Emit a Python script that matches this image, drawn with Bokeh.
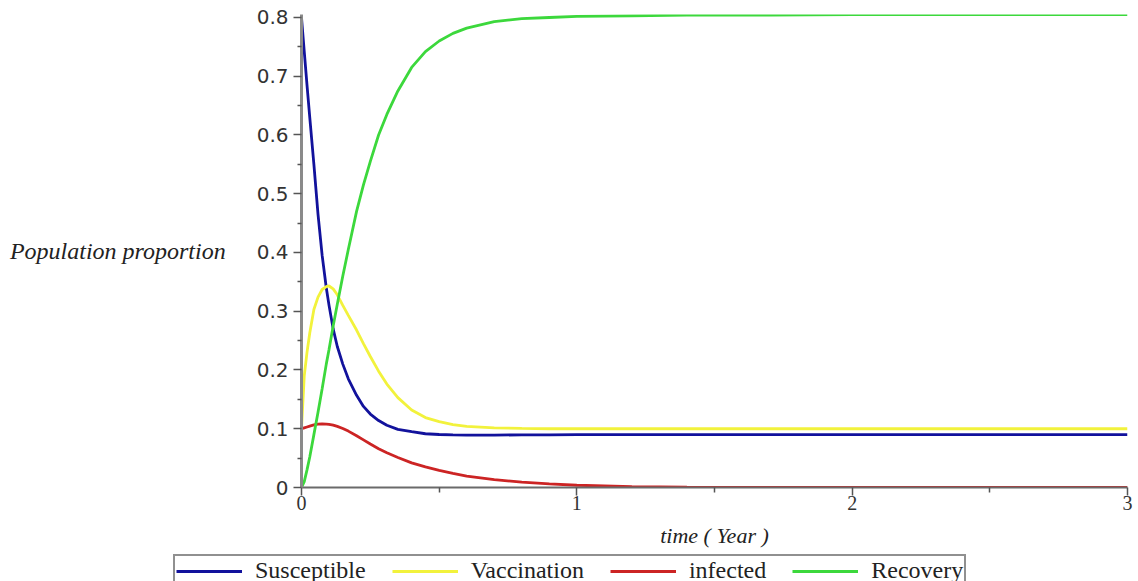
from bokeh.plotting import figure
from bokeh.layouts import column
from bokeh.models import (FixedTicker, Range1d, Legend, LegendItem)
from bokeh.embed import file_html
from bokeh.resources import INLINE

# ---- data ----
t = [0, 0.01, 0.02, 0.03, 0.045, 0.06, 0.075, 0.09, 0.1, 0.115, 0.13, 0.15,
     0.17, 0.2, 0.225, 0.25, 0.28, 0.31, 0.35, 0.4, 0.45, 0.5, 0.55, 0.6,
     0.7, 0.8, 0.9, 1.0, 1.2, 1.4, 1.7, 2.0, 2.5, 3.0]

susceptible = [0.8, 0.742, 0.685, 0.63, 0.55, 0.465, 0.395, 0.34, 0.31, 0.27,
               0.24, 0.21, 0.185, 0.157, 0.138, 0.125, 0.114, 0.106, 0.099,
               0.095, 0.0915, 0.0902, 0.0895, 0.0892, 0.0893, 0.0895, 0.0897,
               0.09, 0.09, 0.09, 0.09, 0.09, 0.09, 0.09]

vaccination = [0.1, 0.19, 0.23, 0.263, 0.303, 0.324, 0.337, 0.342, 0.343, 0.338,
               0.328, 0.31, 0.293, 0.268, 0.245, 0.223, 0.198, 0.176, 0.153,
               0.132, 0.119, 0.112, 0.107, 0.104, 0.1015, 0.1005, 0.1, 0.1,
               0.1, 0.1, 0.1, 0.1, 0.1, 0.1]

infected = [0.1, 0.1015, 0.103, 0.1045, 0.1065, 0.1078, 0.1082, 0.108, 0.1075,
            0.1062, 0.104, 0.1005, 0.096, 0.088, 0.081, 0.074, 0.066, 0.059,
            0.051, 0.042, 0.035, 0.029, 0.024, 0.0195, 0.0135, 0.009, 0.006,
            0.0038, 0.0015, 0.0006, 0.0002, 0.0, 0.0, 0.0]

recovery = [0.0, 0.01, 0.03, 0.052, 0.09, 0.128, 0.168, 0.21, 0.235, 0.275,
            0.312, 0.36, 0.405, 0.47, 0.515, 0.555, 0.6, 0.635, 0.675, 0.715,
            0.742, 0.76, 0.773, 0.782, 0.793, 0.798, 0.8, 0.802, 0.803, 0.804,
            0.804, 0.805, 0.805, 0.805]

series_names = ["Susceptible", "Vaccination", "infected", "Recovery"]
series_colors = ["#12129c", "#f2f23c", "#cc2424", "#3cd83c"]

x_ticks = [0, 1, 2, 3]
x_minor = [0.5, 1.5, 2.5]
y_ticks = [0, 0.1, 0.2, 0.3, 0.4, 0.5, 0.6, 0.7, 0.8]
y_tick_labels = ["0", "0.1", "0.2", "0.3", "0.4", "0.5", "0.6", "0.7", "0.8"]
y_minor = [0.05, 0.15, 0.25, 0.35, 0.45, 0.55, 0.65, 0.75]

x_title = "time ( Year )"
y_title = "Population proportion"

# ---- main figure ----
p = figure(width=1138, height=553, output_backend="svg", toolbar_location=None,
           x_range=Range1d(0, 3), y_range=Range1d(0, 0.8051),
           min_border_left=301, min_border_right=11, min_border_top=14,
           min_border_bottom=66)
p.frame_align = False
p.outline_line_color = None
p.grid.visible = False
p.background_fill_color = "white"
p.border_fill_color = "white"

for vals, col in zip([susceptible, vaccination, infected, recovery], series_colors):
    p.line(t, vals, line_color=col, line_width=2.8)

# x axis
xa = p.xaxis[0]
xa.ticker = FixedTicker(ticks=x_ticks, minor_ticks=x_minor)
xa.axis_line_color = "#6a6a6a"
xa.axis_line_width = 2
xa.major_tick_line_color = "#555555"
xa.minor_tick_line_color = "#555555"
xa.major_tick_line_width = 1.5
xa.minor_tick_line_width = 1.5
xa.major_tick_in = 0
xa.major_tick_out = 8
xa.minor_tick_in = 0
xa.minor_tick_out = 5
xa.major_label_text_font = "Liberation Serif"
xa.major_label_text_font_size = "20px"
xa.major_label_text_color = "#333333"
xa.major_label_standoff = 0
xa.axis_label = x_title
xa.axis_label_text_font = "Liberation Serif"
xa.axis_label_text_font_style = "italic"
xa.axis_label_text_font_size = "22px"
xa.axis_label_text_color = "#222222"
xa.axis_label_standoff = 10

# y axis
ya = p.yaxis[0]
ya.ticker = FixedTicker(ticks=y_ticks, minor_ticks=y_minor)
ya.major_label_overrides = {v: s for v, s in zip(y_ticks, y_tick_labels)}
ya.axis_line_color = "#8a8a8a"
ya.axis_line_width = 3
ya.major_tick_line_color = "#555555"
ya.minor_tick_line_color = "#555555"
ya.major_tick_line_width = 1.5
ya.minor_tick_line_width = 1.5
ya.major_tick_in = 0
ya.major_tick_out = 8
ya.minor_tick_in = 0
ya.minor_tick_out = 4
ya.major_label_text_font = "DejaVu Sans"
ya.major_label_text_font_size = "20px"
ya.major_label_text_color = "#333333"
ya.major_label_standoff = 5
ya.axis_label = y_title
ya.axis_label_orientation = "horizontal"
ya.axis_label_text_font = "Liberation Serif"
ya.axis_label_text_font_style = "italic"
ya.axis_label_text_font_size = "24px"
ya.axis_label_text_color = "#222222"
ya.axis_label_standoff = 28

# ---- legend strip ----
q = figure(width=1138, height=28, output_backend="svg", toolbar_location=None,
           x_range=Range1d(0, 1), y_range=Range1d(0, 1),
           x_axis_type=None, y_axis_type=None,
           min_border_left=172, min_border_right=0, min_border_top=0,
           min_border_bottom=0)
q.frame_align = False
q.outline_line_color = None
q.grid.visible = False
q.background_fill_color = "white"
q.border_fill_color = "white"

items = []
for name, col in zip(series_names, series_colors):
    r = q.line([-2, -1], [-2, -2], line_color=col, line_width=3)
    items.append(LegendItem(label=name, renderers=[r]))

legend = Legend(items=items, orientation="horizontal", location="top_left")
legend.label_text_font = "Liberation Serif"
legend.label_text_font_size = "24px"
legend.label_text_color = "#222222"
legend.border_line_color = "#222222"
legend.border_line_width = 2
legend.background_fill_color = "white"
legend.background_fill_alpha = 1
legend.padding = 1
legend.spacing = 26
legend.label_standoff = 13
legend.glyph_width = 66
legend.glyph_height = 24
legend.label_height = 24
legend.margin = 1
q.add_layout(legend)

layout = column(p, q, spacing=0)
open("out.html", "w").write(file_html(layout, INLINE))
